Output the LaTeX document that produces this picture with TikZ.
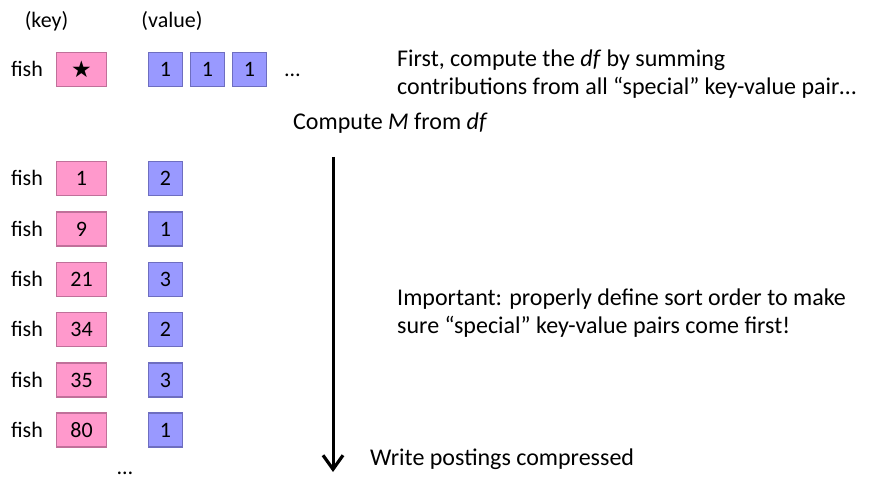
\documentclass[tikz,border=0pt]{standalone}
\usepackage{fontspec}
\setmainfont{Carlito}
\newfontfamily\symfont{DejaVu Sans}
\usetikzlibrary{arrows.meta}
\definecolor{keyfill}{HTML}{FF99CC}
\definecolor{keydraw}{HTML}{C0709A}
\definecolor{valfill}{HTML}{9999FF}
\definecolor{valdraw}{HTML}{6E6EC0}
\tikzset{
  keybox/.style={draw=keydraw,fill=keyfill,line width=1.8pt,minimum width=50pt,minimum height=34pt,inner sep=0pt,font=\fontsize{22}{26}\selectfont},
  valbox/.style={draw=valdraw,fill=valfill,line width=1.8pt,minimum width=34pt,minimum height=34pt,inner sep=0pt,font=\fontsize{22}{26}\selectfont},
  lbl/.style={inner sep=0pt,anchor=base,font=\fontsize{22}{26}\selectfont},
  txt/.style={inner sep=0pt,anchor=base west,font=\fontsize{24}{29}\selectfont},
}
\begin{document}
\begin{tikzpicture}[x=1pt,y=-1pt]
\useasboundingbox (0,0) rectangle (881,478);
% headers
\node[lbl] (hkey) at (46.5,28) {(key)};
\node[lbl] (hval) at (172,28) {(value)};
% special row
\node[lbl] (f0) at (27,77) {fish};
\node[keybox] (k0) at (81.5,69.5) {\symfont\fontsize{23}{24}\selectfont ★};
\node[valbox] (v0a) at (165.5,69.5) {1};
\node[valbox] (v0b) at (207.5,69.5) {1};
\node[valbox] (v0c) at (249.5,69.5) {1};
\node[lbl] (d0) at (292.5,77) {…};
% rows
\foreach \i/\k/\v/\y in {1/1/2/178.5, 2/9/1/229, 3/21/3/279.5, 4/34/2/329.5, 5/35/3/380, 6/80/1/430}{
  \node[lbl] (f\i) at (27,\y+7.5) {fish};
  \node[keybox] (k\i) at (81.5,\y) {\k};
  \node[valbox] (v\i) at (165.5,\y) {\v};
}
\node[lbl] (d1) at (125,474) {…};
% texts
\node[txt] (t1) at (397,67) {First, compute the \textit{df} by summing};
\node[txt] (t2) at (397,95) {contributions from all “special” key-value pair…};
\node[txt] (t3) at (293,130) {Compute \textit{M} from \textit{df}};
\node[txt] (t4) at (397,306) {Important: properly define sort order to make};
\node[txt] (t5) at (397,334) {sure “special” key-value pairs come first!};
\node[txt] (t6) at (370,465) {Write postings compressed};
% arrow
\coordinate (a0) at (333,157);
\coordinate (a1) at (333,472);
\draw[line width=3pt,-{Straight Barb[length=14pt,width=20pt,line width=3.2pt]}] (a0) -- (a1);
\end{tikzpicture}
\end{document}
